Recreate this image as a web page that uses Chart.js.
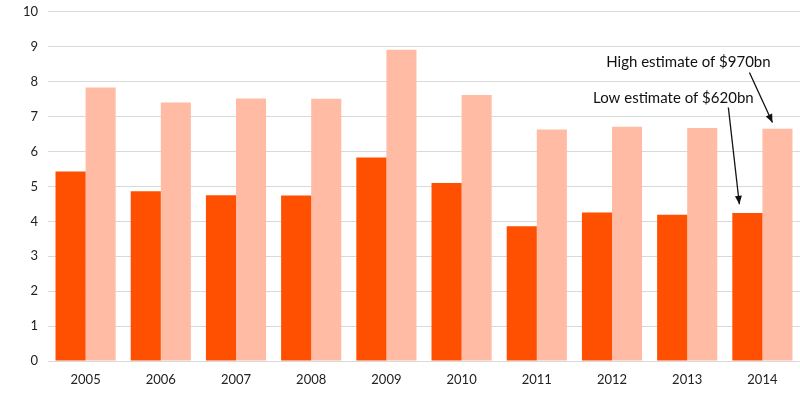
<!DOCTYPE html>
<html>
<head>
<meta charset="utf-8">
<script src="https://cdn.jsdelivr.net/npm/chart.js@4/dist/chart.umd.min.js"></script>
<style>
  html, body { margin: 0; padding: 0; background: #fff; overflow: hidden; }
  #wrap { width: 800px; height: 401px; margin-top: -6px; }
</style>
</head>
<body>
<div id="wrap"><canvas id="estChart"></canvas></div>
<script>
const years = ['2005', '2006', '2007', '2008', '2009', '2010', '2011', '2012', '2013', '2014'];
const lowEstimate = [5.43, 4.86, 4.75, 4.74, 5.83, 5.10, 3.86, 4.25, 4.19, 4.24];
const highEstimate = [7.83, 7.40, 7.52, 7.51, 8.91, 7.62, 6.63, 6.71, 6.67, 6.65];
const yTicks = [0, 1, 2, 3, 4, 5, 6, 7, 8, 9, 10];

// labels with arrows pointing at the 2014 bars
const notes = [
    { text: 'High estimate of $970bn', dataset: 1, value: 6.83, dx: -5, textDx: -89, textY: 8.57, fromDx: -28, fromY: 8.26 },
    { text: 'Low estimate of $620bn', dataset: 0, value: 4.49, dx: -8, textDx: -74, textY: 7.54, fromDx: -19, fromY: 7.26 }
];

const arrowPlugin = {
    id: 'arrows',
    afterDatasetsDraw(chart) {
        const c = chart.ctx;
        const y = chart.scales.y;
        c.save();
        c.font = '15px Lato, "Open Sans", sans-serif';
        c.fillStyle = '#111';
        c.textAlign = 'center';
        c.textBaseline = 'middle';
        notes.forEach(n => {
            const bar = chart.getDatasetMeta(n.dataset).data[years.length - 1];
            const tx = bar.x + n.dx;
            const ty = y.getPixelForValue(n.value);
            const fx = bar.x + n.fromDx;
            const fy = y.getPixelForValue(n.fromY);
            c.fillText(n.text, bar.x + n.textDx, y.getPixelForValue(n.textY));
            c.strokeStyle = '#111';
            c.lineWidth = 1.3;
            c.beginPath();
            c.moveTo(fx, fy);
            c.lineTo(tx, ty);
            c.stroke();
            const ang = Math.atan2(ty - fy, tx - fx);
            const len = 9;
            c.beginPath();
            c.moveTo(tx, ty);
            c.lineTo(tx - len * Math.cos(ang - 0.4), ty - len * Math.sin(ang - 0.4));
            c.lineTo(tx - len * Math.cos(ang + 0.4), ty - len * Math.sin(ang + 0.4));
            c.closePath();
            c.fill();
        });
        c.restore();
    }
};

const ctx = document.getElementById('estChart').getContext('2d');
const estChart = new Chart(ctx, {
    type: 'bar',
    data: {
        labels: years,
        datasets: [{
            label: 'Low estimate',
            data: lowEstimate,
            backgroundColor: '#ff4f00',
            categoryPercentage: 0.8,
            barPercentage: 1.0
        }, {
            label: 'High estimate',
            data: highEstimate,
            backgroundColor: '#ffbba3',
            categoryPercentage: 0.8,
            barPercentage: 1.0
        }]
    },
    options: {
        responsive: true,
        maintainAspectRatio: false,
        animation: false,
        layout: { padding: 0 },
        plugins: {
            legend: { display: false },
            tooltip: { enabled: false }
        },
        scales: {
            x: {
                grid: { display: false },
                border: { color: '#d9d9d9' },
                ticks: { color: '#222', font: { family: 'Lato, "Open Sans", sans-serif', size: 13 }, padding: 3 },
                afterFit(scale) { scale.height = 34; }
            },
            y: {
                min: 0,
                max: 10,
                afterBuildTicks(scale) { scale.ticks = yTicks.map(v => ({ value: v })); },
                grid: { color: '#d9d9d9', drawTicks: false },
                border: { display: false },
                ticks: { color: '#222', font: { family: 'Lato, "Open Sans", sans-serif', size: 13 }, padding: 10 },
                afterFit(scale) { scale.width = 48; }
            }
        }
    },
    plugins: [arrowPlugin]
});
</script>
</body>
</html>
